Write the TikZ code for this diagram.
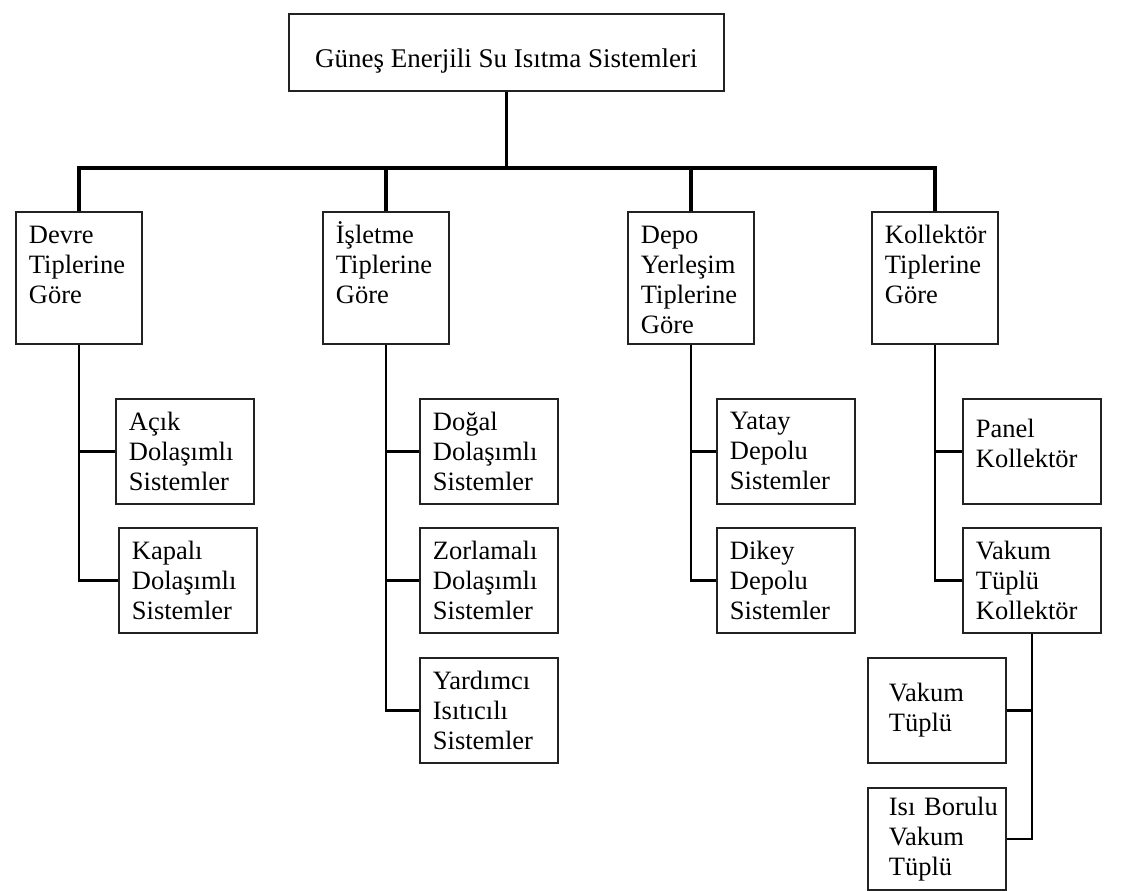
\documentclass[tikz,border=0pt]{standalone}
\usepackage{fontspec}
\setmainfont{Liberation Serif}
\newcommand\dfont{\fontsize{26.5}{30}\selectfont}
\definecolor{boxc}{HTML}{222222}
\begin{document}
\begin{tikzpicture}[x=1pt,y=-1pt,
  box/.style={draw=boxc, line width=1.8pt, anchor=north west, inner ysep=0pt, align=left, font=\dfont},
  topbox/.style={box, align=center, minimum width=435pt, minimum height=77pt, inner xsep=0pt, text height=40pt, text depth=9pt, font=\fontsize{27}{30}\selectfont},
  colbox/.style={box, minimum width=126pt, minimum height=132pt, text width=100pt, inner xsep=13pt, text height=18pt, text depth=86pt},
  subbox/.style={box, minimum width=138pt, minimum height=105pt, text width=112pt, inner xsep=13pt},
  lowbox/.style={box, minimum width=138pt, minimum height=105pt, text width=96pt, inner xsep=21pt},
  main/.style={line width=3.5pt, line join=miter},
  sub/.style={line width=2.2pt, line join=miter}
]
\useasboundingbox (0,0) rectangle (1124,891);
\fill[white] (0,0) rectangle (1124,891);

% top
\node[topbox] (top) at (288,13) {Güneş Enerjili Su Isıtma Sistemleri};

% columns
\node[colbox] (c1) at (15,211)  {Devre\\Tiplerine\\Göre};
\node[colbox] (c2) at (322,211) {İşletme\\Tiplerine\\Göre};
\node[colbox] (c3) at (627,211) {Depo\\Yerleşim\\Tiplerine\\Göre};
\node[colbox] (c4) at (871,211) {Kollektör\\Tiplerine\\Göre};

% sub boxes
\node[subbox] (s11) at (115,398) {Açık\\Dolaşımlı\\Sistemler};
\node[subbox] (s12) at (118,527) {Kapalı\\Dolaşımlı\\Sistemler};
\node[subbox] (s21) at (419,398) {Doğal\\Dolaşımlı\\Sistemler};
\node[subbox] (s22) at (419,527) {Zorlamalı\\Dolaşımlı\\Sistemler};
\node[subbox] (s23) at (419,657) {Yardımcı\\Isıtıcılı\\Sistemler};
\node[subbox] (s31) at (716,398) {Yatay\\Depolu\\Sistemler};
\node[subbox] (s32) at (716,527) {Dikey\\Depolu\\Sistemler};
\node[subbox, text height=18pt, text depth=45pt] (s41) at (962,398) {Panel\\Kollektör};
\node[subbox] (s42) at (962,527) {Vakum\\Tüplü\\Kollektör};
\node[lowbox] (v1) at (867,657) {Vakum\\Tüplü};
\node[lowbox, minimum height=102pt] (v2) at (867,787) {Isı~Borulu\\Vakum\\Tüplü};

% main connectors
\coordinate (bus) at (507,168);
\draw[main] (top.south) -- (top.south |- bus);
\draw[main] (c1.north) |- (c4.north |- bus) -- (c4.north);
\draw[main] (c2.north) -- (c2.north |- bus);
\draw[main] (c3.north) -- (c3.north |- bus);

% sub connectors
\draw[sub] (c1.south) |- (s12.west);
\draw[sub] (s11.west) -- (s11.west -| c1.south);
\draw[sub] (c2.south) |- (s23.west);
\draw[sub] (s21.west) -- (s21.west -| c2.south);
\draw[sub] (s22.west) -- (s22.west -| c2.south);
\draw[sub] (c3.south) |- (s32.west);
\draw[sub] (s31.west) -- (s31.west -| c3.south);
\draw[sub] (c4.south) |- (s42.west);
\draw[sub] (s41.west) -- (s41.west -| c4.south);
\draw[sub] (s42.south) |- (v2.east);
\draw[sub] (v1.east) -- (v1.east -| s42.south);
\end{tikzpicture}
\end{document}
